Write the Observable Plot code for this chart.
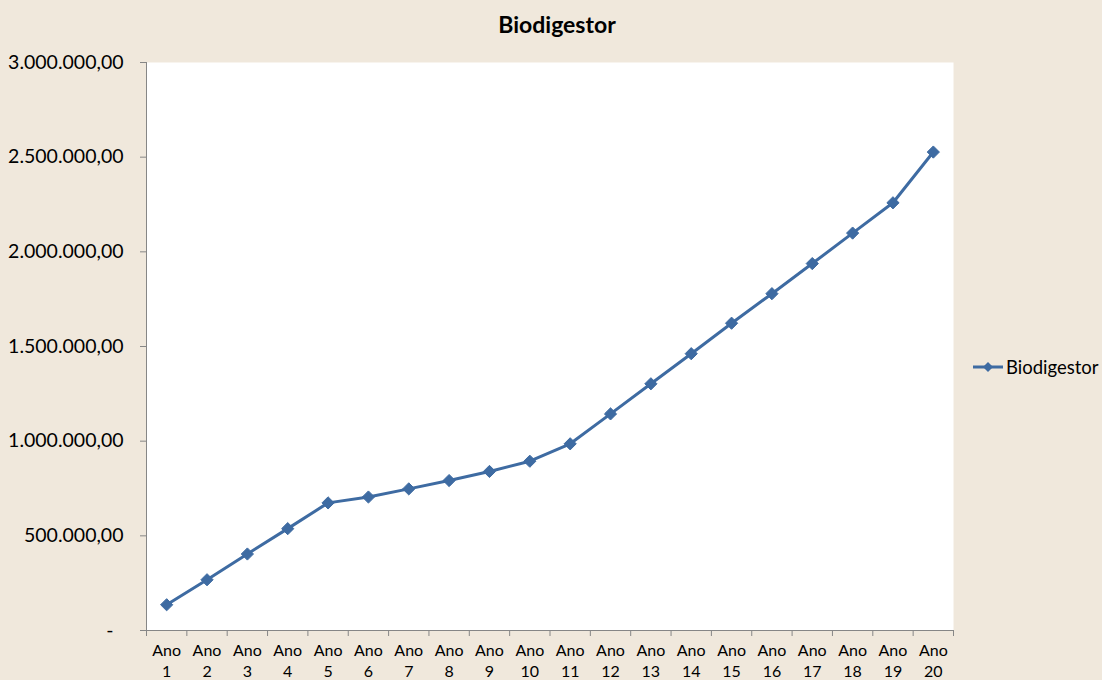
<!DOCTYPE html>
<html><head><meta charset="utf-8">
<script src="https://cdn.jsdelivr.net/npm/d3@7"></script>
<script src="https://cdn.jsdelivr.net/npm/@observablehq/plot@0.6"></script>
<style>
html,body{margin:0;padding:0;background:#F0E8DC;}
#wrap{position:relative;width:1102px;height:680px;overflow:hidden;font-family:Lato,sans-serif;background:#F0E8DC;}
#chart{position:absolute;left:0;top:0;}
#title{position:absolute;left:0;width:1114px;top:10px;text-align:center;font-weight:bold;font-size:23px;color:#000;}
#legend{position:absolute;left:972px;top:356px;font-size:18.5px;display:flex;align-items:center;color:#000;}
#legend svg{margin-right:2px;}
</style></head><body>
<div id="wrap"><div id="chart"></div><div id="title"></div><div id="legend"></div></div>
<script>
const seriesName = "Biodigestor";
const categories = ["Ano 1","Ano 2","Ano 3","Ano 4","Ano 5","Ano 6","Ano 7","Ano 8","Ano 9","Ano 10",
  "Ano 11","Ano 12","Ano 13","Ano 14","Ano 15","Ano 16","Ano 17","Ano 18","Ano 19","Ano 20"];
const values = [136000, 268000, 404000, 538000, 674000, 705000, 748000, 792000, 840000, 894000,
  986000, 1144000, 1303000, 1462000, 1623000, 1779000, 1938000, 2099000, 2259000, 2527000];
const yTicks = [0, 500000, 1000000, 1500000, 2000000, 2500000, 3000000];

const lineColor = "#3E6BA2";
const axisColor = "#868686";
const ptLocale = d3.formatLocale({decimal: ",", thousands: ".", grouping: [3]});
const fmt = ptLocale.format(",.2f");

const data = categories.map((c, i) => ({idx: i + 1, cat: c, value: values[i]}));
const labelTicks = categories.map((c, i) => i + 1);
const edgeTicks = d3.range(0, categories.length + 1).map(i => i + 0.5);

const chart = Plot.plot({
  width: 1102,
  height: 680,
  marginLeft: 146,
  marginRight: 149,
  marginTop: 62,
  marginBottom: 50,
  style: {background: "transparent", fontFamily: "Lato, sans-serif", color: "#000"},
  x: {domain: [0.5, categories.length + 0.5]},
  y: {domain: [0, 3000000]},
  marks: [
    Plot.frame({fill: "white", stroke: "none"}),
    Plot.axisY({ticks: yTicks, tickFormat: d => d === 0 ? "-\u00a0\u00a0" : fmt(d), tickSize: 6, tickPadding: 17,
      fontSize: 19.5, stroke: axisColor, label: null}),
    Plot.axisX({ticks: edgeTicks, tickFormat: () => "", tickSize: 6, stroke: axisColor, label: null}),
    Plot.axisX({ticks: labelTicks, tickFormat: i => categories[i - 1].replace(" ", "\n"), tickSize: 0, tickPadding: 11,
      fontSize: 16, lineHeight: 1.3, label: null}),
    Plot.ruleX([0.5], {stroke: axisColor, strokeWidth: 1}),
    Plot.ruleY([0], {stroke: axisColor, strokeWidth: 1}),
    Plot.line(data, {x: "idx", y: "value", stroke: lineColor, strokeWidth: 3}),
    Plot.dot(data, {x: "idx", y: "value", symbol: "diamond2", r: 5.5, fill: lineColor, stroke: lineColor, strokeWidth: 1})
  ]
});
document.getElementById("chart").appendChild(chart);
document.getElementById("title").textContent = seriesName;
document.getElementById("legend").innerHTML =
  `<svg width="32" height="14"><line x1="1" y1="7" x2="31" y2="7" stroke="${lineColor}" stroke-width="3"/>` +
  `<path d="M16,2 L21,7 L16,12 L11,7Z" fill="${lineColor}"/></svg><span>${seriesName}</span>`;
</script>
</body></html>
